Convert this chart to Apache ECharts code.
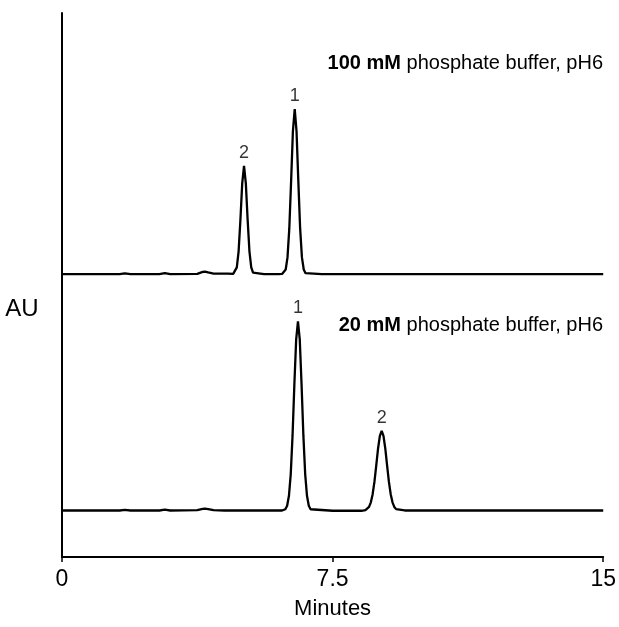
<!DOCTYPE html>
<html>
<head>
<meta charset="utf-8">
<script src="https://cdn.jsdelivr.net/npm/echarts@6/dist/echarts.min.js"></script>
<style>
  html, body { margin: 0; padding: 0; background: #fff; }
  #chart { width: 619px; height: 627px; }
</style>
</head>
<body>
<div id="chart"></div>
<script>
// Retention time axis (minutes)
const xTicks = [0, 7.5, 15];

// 100 mM phosphate buffer trace (offset upward on the AU scale)
const topTime = [0, 0.5, 1.0, 1.6, 1.74, 1.9, 2.7, 2.85, 3.0, 3.75, 3.9, 3.96, 4.05, 4.2, 4.6,
  4.745, 4.795, 4.845, 4.895, 4.945, 4.995, 5.045, 5.095, 5.145, 5.195, 5.245, 5.295, 5.345,
  5.6, 6.0, 6.1, 6.15, 6.2, 6.25, 6.3, 6.35, 6.4, 6.45, 6.5, 6.55, 6.6, 6.65, 6.7, 6.75, 6.8,
  7.2, 8, 10, 12, 15];
const topAU = [52.0, 52.0, 52.0, 52.0, 52.15, 52.0, 52.0, 52.2, 52.0, 52.05, 52.4, 52.45, 52.3, 52.1, 52.1,
  52.05, 52.26, 53.25, 56.2, 62.0, 68.7, 71.9, 68.7, 62.0, 56.2, 53.25, 52.26, 52.05,
  52.0, 52.0, 52.03, 52.17, 52.85, 55.07, 60.4, 69.1, 78.3, 82.35, 78.3, 69.1, 60.4, 55.07, 52.85, 52.17, 52.03,
  52.0, 52.0, 52.0, 52.0, 52.0];

// 20 mM phosphate buffer trace
const bottomTime = [0, 0.5, 1.0, 1.6, 1.74, 1.9, 2.7, 2.85, 3.0, 3.75, 3.9, 3.96, 4.05, 4.2, 4.5, 5.5, 6.1,
  6.14, 6.19, 6.24, 6.29, 6.34, 6.39, 6.44, 6.49, 6.54, 6.59, 6.64, 6.69, 6.74, 6.79, 6.84, 6.89, 6.94,
  7.5, 8.3, 8.41, 8.46, 8.51, 8.56, 8.61, 8.66, 8.71, 8.76, 8.81, 8.86, 8.91, 8.96, 9.01, 9.06, 9.11,
  9.16, 9.21, 9.26, 9.31, 9.5, 11, 13, 15];
const bottomAU = [8.55, 8.55, 8.55, 8.55, 8.65, 8.55, 8.55, 8.7, 8.55, 8.6, 8.85, 8.9, 8.8, 8.6, 8.55, 8.55, 8.55,
  8.6, 8.78, 9.42, 11.25, 15.25, 22.35, 31.65, 39.95, 43.3, 39.95, 31.65, 22.35, 15.25, 11.25, 9.42, 8.78, 8.6,
  8.5, 8.5, 8.63, 8.8, 9.2, 10.05, 11.55, 13.85, 16.85, 19.95, 22.25, 23.2, 22.25, 19.95, 16.85, 13.85, 11.55,
  10.05, 9.2, 8.8, 8.63, 8.55, 8.55, 8.55, 8.55];

// Peak numbering: apex time of each numbered peak
const topPeakTimes = [5.045, 6.45];
const topPeakNames = ['2', '1'];
const bottomPeakTimes = [6.54, 8.86];
const bottomPeakNames = ['1', '2'];

// Buffer captions
const topCaptionBold = '100 mM';
const bottomCaptionBold = '20 mM';
const captionRest = ' phosphate buffer, pH6';
const yTitle = 'AU';

const sans = '"Liberation Sans", Arial, Helvetica, sans-serif';

function pairs(ts, vs) {
  return ts.map((t, i) => [t, vs[i]]);
}
function peakPoints(ts, vs, peakTs, names) {
  return peakTs.map((pt, k) => {
    const i = ts.indexOf(pt);
    return { value: [pt, vs[i]], name: names[k] };
  });
}

const traceStyle = { color: '#000', width: 2.3 };
const peakLabel = {
  show: true, position: 'top', distance: 4,
  formatter: p => p.name, color: '#000', fontSize: 18, fontFamily: sans
};

const chart = echarts.init(document.getElementById('chart'), null, { renderer: 'canvas' });
chart.setOption({
  animation: false,
  backgroundColor: '#fff',
  grid: { left: 62, right: 15, top: 13, bottom: 70, containLabel: false },
  xAxis: {
    type: 'value', min: 0, max: 15, interval: 7.5,
    name: 'Minutes', nameLocation: 'middle', nameGap: 41,
    nameTextStyle: { color: '#000', fontSize: 22, fontFamily: sans },
    axisLine: { lineStyle: { color: '#000', width: 2 } },
    axisTick: { show: true, inside: false, length: 5, lineStyle: { color: '#000', width: 1.5 } },
    axisLabel: {
      color: '#000', fontSize: 23, fontFamily: sans, margin: 11,
      formatter: v => (xTicks.includes(v) ? String(v) : '')
    },
    splitLine: { show: false }
  },
  yAxis: {
    type: 'value', min: 0, max: 100,
    axisLine: { show: true, onZero: false, lineStyle: { color: '#000', width: 2 } },
    axisTick: { show: false },
    axisLabel: { show: false },
    splitLine: { show: false }
  },
  series: [
    { type: 'line', data: pairs(topTime, topAU), showSymbol: false, lineStyle: traceStyle, z: 3 },
    { type: 'line', data: pairs(bottomTime, bottomAU), showSymbol: false, lineStyle: traceStyle, z: 3 },
    { type: 'scatter', data: peakPoints(topTime, topAU, topPeakTimes, topPeakNames),
      symbolSize: 0, label: peakLabel, silent: true },
    { type: 'scatter', data: peakPoints(bottomTime, bottomAU, bottomPeakTimes, bottomPeakNames),
      symbolSize: 0, label: peakLabel, silent: true }
  ],
  graphic: [
    { type: 'text', x: 22, y: 309, style: {
        text: yTitle, fontSize: 24, fontFamily: sans, fill: '#000',
        align: 'center', verticalAlign: 'middle' } },
    { type: 'text', x: 603, y: 63, style: {
        text: '{b|' + topCaptionBold + '}' + captionRest,
        rich: { b: { fontWeight: 'bold', fontSize: 20, fontFamily: sans, fill: '#000' } },
        fontSize: 20, fontFamily: sans, fill: '#000', align: 'right', verticalAlign: 'middle' } },
    { type: 'text', x: 603, y: 325, style: {
        text: '{b|' + bottomCaptionBold + '}' + captionRest,
        rich: { b: { fontWeight: 'bold', fontSize: 20, fontFamily: sans, fill: '#000' } },
        fontSize: 20, fontFamily: sans, fill: '#000', align: 'right', verticalAlign: 'middle' } }
  ]
});
</script>
</body>
</html>
